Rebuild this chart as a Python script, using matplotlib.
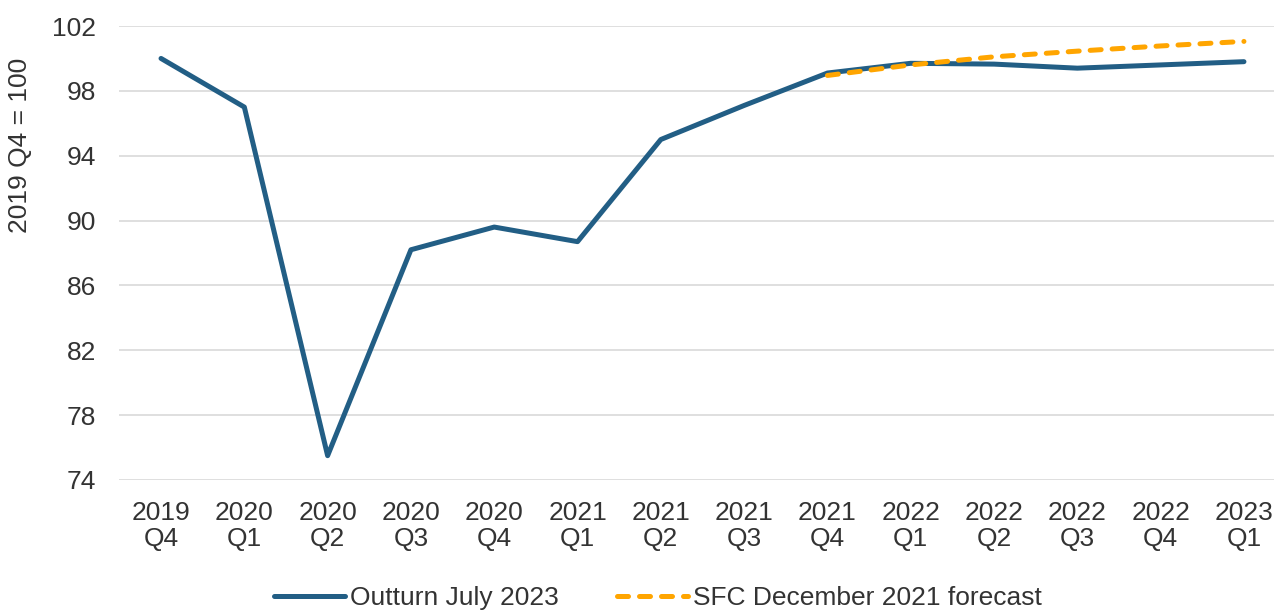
import matplotlib
matplotlib.use("Agg")
import matplotlib.pyplot as plt

plt.rcParams['font.family'] = ['Liberation Sans', 'DejaVu Sans']

quarters = ["2019\nQ4", "2020\nQ1", "2020\nQ2", "2020\nQ3", "2020\nQ4", "2021\nQ1", "2021\nQ2",
            "2021\nQ3", "2021\nQ4", "2022\nQ1", "2022\nQ2", "2022\nQ3", "2022\nQ4", "2023\nQ1"]
outturn = [100.0, 97.0, 75.5, 88.2, 89.6, 88.7, 95.0, 97.1, 99.1, 99.7, 99.65, 99.4, 99.6, 99.8]
forecast_quarters = quarters[8:]
forecast = [98.95, 99.6, 100.1, 100.45, 100.77, 101.05]
yticks = [74, 78, 82, 86, 90, 94, 98, 102]

blue = '#225E85'
orange = '#FFA500'
text_color = '#333333'
fs = 19

fig = plt.figure(figsize=(12.74, 6.12), dpi=100)
ax = fig.add_axes([0.0937, 0.2157, 1.0091 - 0.0937, 0.9575 - 0.2157])

x = list(range(len(quarters)))
xf = x[8:]
ax.plot(x, outturn, color=blue, lw=3.6, solid_capstyle='round', solid_joinstyle='round',
        label='Outturn July 2023', zorder=3)
ax.plot(xf, forecast, color=orange, lw=3.6, dashes=(2.2, 2.2), dash_capstyle='round',
        label='SFC December 2021 forecast', zorder=4)

ax.set_xlim(-0.5, len(quarters) - 0.5)
ax.set_ylim(74, 102)
ax.set_yticks(yticks)
ax.set_yticklabels([str(v) for v in yticks])
ax.set_xticks(x)
ax.set_xticklabels(quarters, linespacing=1.1)
ax.grid(axis='y', color='#D9D9D9', lw=1.2)
ax.set_axisbelow(True)
for s in ax.spines.values():
    s.set_visible(False)
ax.tick_params(axis='both', length=0, labelsize=fs, colors=text_color)
ax.tick_params(axis='y', pad=17)
ax.tick_params(axis='x', pad=15)

ax.set_ylabel('2019 Q4 = 100', fontsize=fs, color=text_color)
ax.yaxis.set_label_coords(-0.075, 0.736)

fig.legend(loc='center', bbox_to_anchor=(658 / 1274, 1 - 598 / 612), ncol=2, frameon=False,
           fontsize=fs, handlelength=2.7, columnspacing=2.2, handletextpad=0.2,
           labelcolor=text_color)

fig.savefig('out.png', dpi=100)
